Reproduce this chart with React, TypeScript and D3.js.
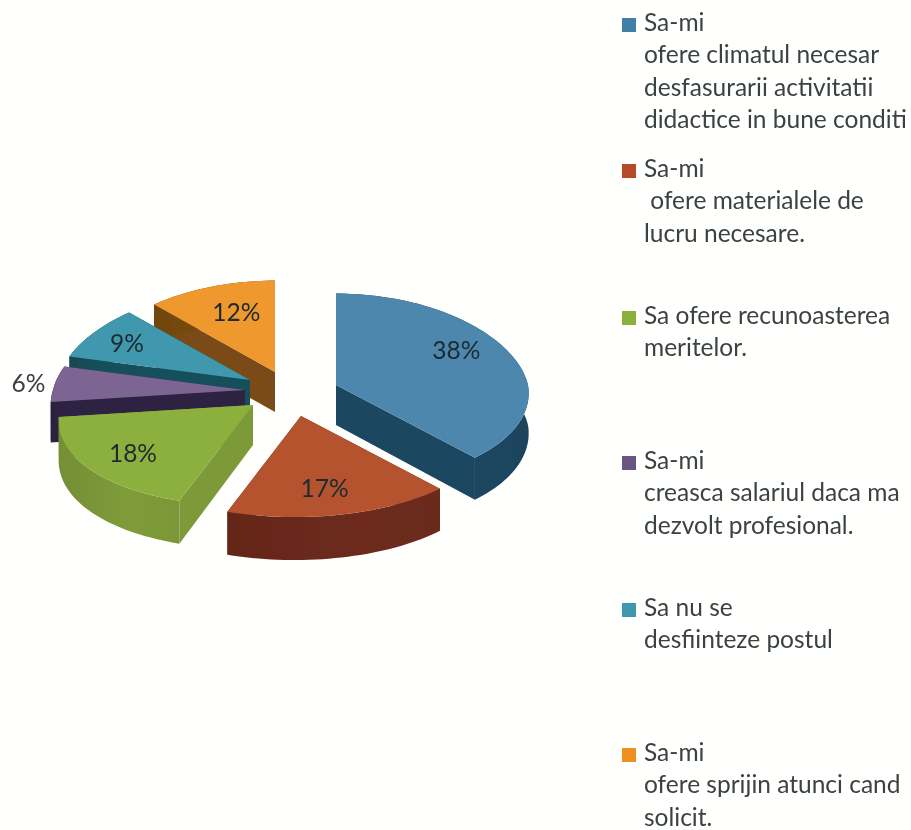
import { color, line, pie, range, scaleLinear } from 'd3'

const labels = ['38%', '17%', '18%', '6%', '9%', '12%']
const values = [38, 17, 18, 6, 9, 12]
const topColors = ['#4d87ad', '#b5532f', '#8cb03e', '#7c6592', '#3f98ae', '#ef982f']
const wallColors = ['#1d4660', '#6d2a1b', '#7f9c3a', '#2e2342', '#17505c', '#7a4c12']
const edgeColors = ['#1d4660', '#6d2a1b', '#7b9a38', '#2e2342', '#17505c', '#7a4c12']
const legendSwatches = ['#3f7fa6', '#b5482a', '#8cb03e', '#6a5580', '#3f98ae', '#ef8f22']
const legendLines = [
	['Sa-mi', 'ofere climatul necesar', 'desfasurarii activitatii', 'didactice in bune conditi'],
	['Sa-mi', ' ofere materialele de', 'lucru necesare.'],
	['Sa ofere recunoasterea', 'meritelor.'],
	['Sa-mi', 'creasca salariul daca ma', 'dezvolt profesional.'],
	['Sa nu se', 'desfiinteze postul'],
	['Sa-mi', 'ofere sprijin atunci cand', 'solicit.'],
]

// layout of the exploded slices, same order as values
const sliceOrigin = [
	[336, 385],
	[301, 416],
	[253, 405],
	[245, 390],
	[250, 380],
	[275, 372],
]
const labelRadius = [0.75, 0.74, 0.75, 1.14, 0.78, 0.68]
const labelTurn = [-7.7, 2, -0.7, 0, 0, 3]
const legendTop = [31, 177, 324, 469, 616, 761]
const lineStep = 32.4
const depth = 40
const drawOrder = [5, 4, 3, 2, 0, 1]

const xScale = scaleLinear().domain([-1, 1]).range([-192, 192])
const yScale = scaleLinear().domain([-1, 1]).range([-96, 96])

// tilted disc with a bit of perspective, front gets bigger and leans left
function project(origin: number[], angle: number, r: number): [number, number] {
	const u = Math.sin(angle) * r
	const v = -Math.cos(angle) * r
	const lean = Math.max(v, 0) * 7
	return [origin[0] + xScale(u) / (1 - 0.12 * v) - lean, origin[1] + yScale(v) / (1 - 0.05 * v)]
}

const path = line()
const slices = pie<number>().sort(null).startAngle(0).endAngle(Math.PI * 2)(values)

function arcPoints(origin: number[], a0: number, a1: number) {
	const n = Math.ceil((a1 - a0) / 0.03)
	return range(n + 1).map((i) => project(origin, a0 + ((a1 - a0) * i) / n, 1))
}

// walls get taller towards the front
function down(points: [number, number][], originY: number): [number, number][] {
	return points.map(([x, y]) => [x, y + depth + Math.max(y - originY, 0) * 0.03])
}

function Slice({ index }: { index: number }) {
	const s = slices[index]
	const o = sliceOrigin[index]
	const arc = arcPoints(o, s.startAngle, s.endAngle)
	const apex = project(o, 0, 0)
	const first = arc[0]
	const last = arc[arc.length - 1]
	const startWall: [number, number][] = [apex, first, ...down([first, apex], o[1])]
	const endWall: [number, number][] = [apex, last, ...down([last, apex], o[1])]
	const outerWall: [number, number][] = [...arc, ...down(arc, o[1]).reverse()]
	const top: [number, number][] = [apex, ...arc]
	return (
		<g>
			<path d={`${path(startWall)}Z`} fill={edgeColors[index]} />
			<path d={`${path(endWall)}Z`} fill={edgeColors[index]} />
			<path d={`${path(outerWall)}Z`} fill={`url(#wall${index})`} />
			<path d={`${path(top)}Z`} fill={topColors[index]} />
		</g>
	)
}

export default function App() {
	return (
		<svg
			width={911}
			height={830}
			viewBox='0 0 911 830'
			style={{ position: 'absolute', left: 0, top: 0, background: '#fffffd' }}
			fontFamily='Lato, sans-serif'
		>
			<defs>
				<filter id='scan' x='-5%' y='-5%' width='110%' height='110%'>
					<feGaussianBlur stdDeviation='0.7' />
				</filter>
				<filter id='soft' x='-5%' y='-5%' width='110%' height='110%'>
					<feGaussianBlur stdDeviation='0.35' />
				</filter>
				{wallColors.map((c, i) => (
					<linearGradient key={i} id={`wall${i}`} x1='0' x2='1' y1='0' y2='0'>
						<stop offset='0' stopColor={color(c)?.darker(0.25).formatHex()} />
						<stop offset='0.6' stopColor={c} />
						<stop offset='1' stopColor={color(c)?.darker(0.1).formatHex()} />
					</linearGradient>
				))}
			</defs>

			<g filter='url(#scan)'>
				{drawOrder.map((i) => (
					<Slice key={i} index={i} />
				))}
			</g>

			<g filter='url(#soft)'>
				{slices.map((s, i) => {
					const mid = (s.startAngle + s.endAngle) / 2 + (labelTurn[i] * Math.PI) / 180
					const [x, y] = project(sliceOrigin[i], mid, labelRadius[i])
					return (
						<text
							key={i}
							x={x}
							y={y + 9}
							textAnchor='middle'
							fontSize={24.5}
							fill={i === 3 ? '#3a4145' : '#1d2a30'}
						>
							{labels[i]}
						</text>
					)
				})}

				{legendLines.map((rows, i) => (
					<g key={i}>
						<rect x={622} y={legendTop[i] - 13} width={14} height={14} fill={legendSwatches[i]} />
						{rows.map((row, j) => (
							<text
								key={j}
								x={644}
								y={legendTop[i] + j * lineStep}
								fontSize={24.5}
								fill='#3b4242'
								style={{ whiteSpace: 'pre' }}
							>
								{row}
							</text>
						))}
					</g>
				))}
			</g>
		</svg>
	)
}
